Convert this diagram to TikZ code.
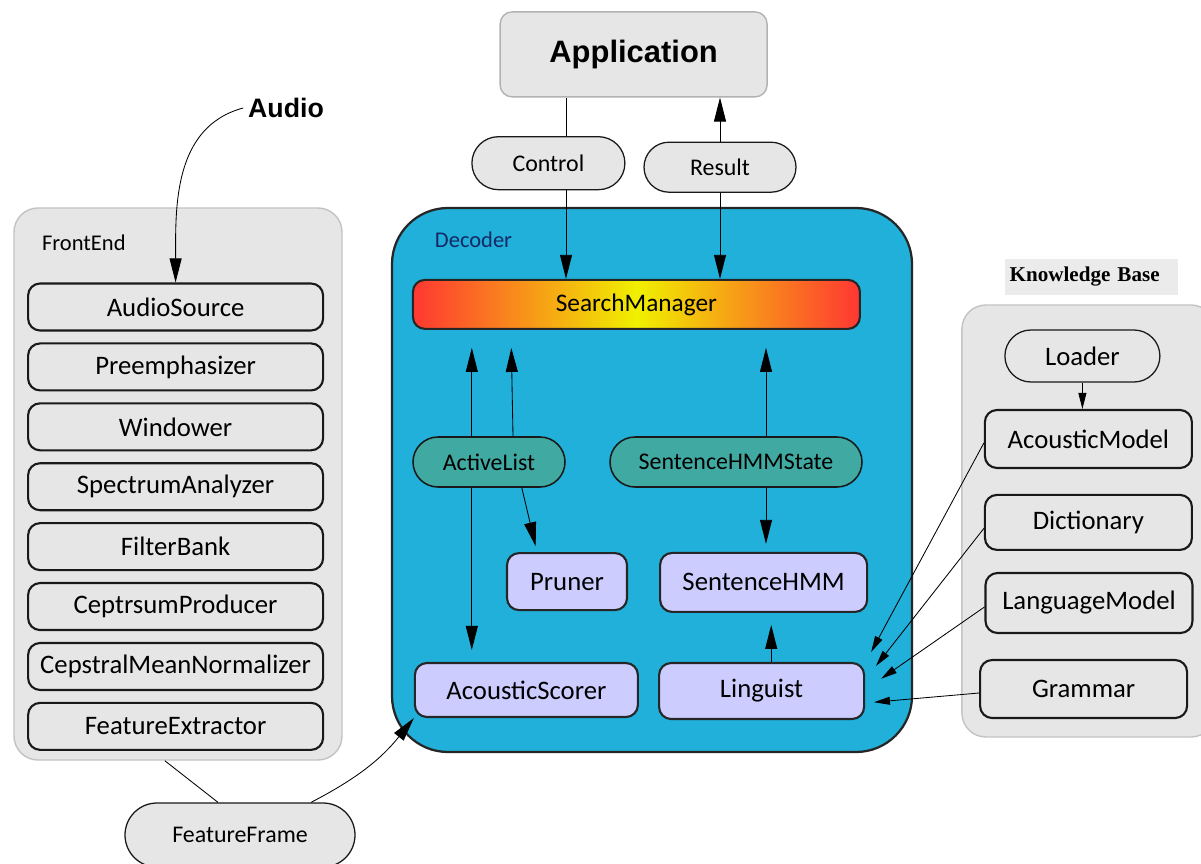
\documentclass[tikz,border=0pt]{standalone}
\usepackage{fontspec}
\setmainfont{Carlito}
\newfontfamily\headfont{Liberation Sans}
\newfontfamily\kbfont{Liberation Serif}
\usetikzlibrary{positioning,shapes.misc,arrows.meta,calc}
\definecolor{boxgray}{RGB}{230,230,230}
\definecolor{edgegray}{RGB}{195,195,195}
\definecolor{decblue}{RGB}{32,176,218}
\definecolor{listteal}{RGB}{64,170,162}
\definecolor{unitlav}{RGB}{204,204,255}
\definecolor{decnavy}{RGB}{20,40,100}
\definecolor{smred}{RGB}{255,55,50}
\definecolor{smyellow}{RGB}{240,240,0}
\tikzset{
    basenode/.style = {align=center, inner sep=0pt, font=\fontsize{19}{22}\selectfont},
    % Grey containers (FrontEnd, Knowledge Base)
    node_box/.style = {rectangle, rounded corners=0.6cm, draw=edgegray, line width=1pt, fill=boxgray},
    % Decoder container
    node_dec/.style = {rectangle, rounded corners=1.4cm, draw=black!85, line width=1.6pt, fill=decblue,
                       minimum width=13cm, minimum height=13.6cm},
    % Boxes with black edge
    node_fe/.style = {basenode, rectangle, rounded corners=0.3cm, draw=black!90, line width=1.5pt, fill=boxgray,
                      minimum width=7.375cm, minimum height=1.175cm},
    node_kb/.style = {node_fe, minimum width=5.175cm, minimum height=1.45cm},
    % Pills for exchanged objects
    node_obj/.style = {basenode, rounded rectangle, draw=black!90, line width=0.9pt, fill=boxgray,
                       font=\fontsize{17}{20}\selectfont},
    node_list/.style = {node_obj, fill=listteal, line width=1.1pt, minimum height=1.25cm},
    % Decoder parts
    node_part/.style = {basenode, rectangle, rounded corners=0.3cm, draw=black!85, line width=1.5pt, fill=unitlav},
    arr/.style = {-{Triangle[length=0.6cm,width=0.3cm]}, line width=0.6pt},
    arr_small/.style = {-{Triangle[length=0.4cm,width=0.2cm]}, line width=0.6pt}
}

\begin{document}
\begin{tikzpicture}
    \useasboundingbox (0,0) rectangle (30.025,-21.6);

    % containers
    \node[node_box, minimum width=8.2cm, minimum height=13.8cm] (frontend) at (4.45,-12.1) {};
    \node[node_box, minimum width=6.325cm, minimum height=10.8cm] (kbase) at (27.21,-13.025) {};
    \node[node_dec] (decoder) at (16.3,-12.0) {};
    \node[anchor=west, font=\fontsize{16}{18}\selectfont] (felabel) at (0.93,-6.07) {FrontEnd};
    \node[anchor=west, text=decnavy, font=\fontsize{16}{18}\selectfont] (declabel) at (10.75,-6.0) {Decoder};
    \node[anchor=west, fill=black!8, inner xsep=3pt, minimum height=0.9cm, text width=4.1cm,
          font=\kbfont\bfseries\fontsize{15}{17}\selectfont] (kblabel) at (25.13,-6.925) {Knowledge Base};

    % application side
    \node[rectangle, rounded corners=0.3cm, draw=black!30, line width=1pt, fill=boxgray,
          minimum width=6.675cm, minimum height=2.125cm,
          font=\headfont\bfseries\fontsize{22}{26}\selectfont] (app) at (15.84,-1.36) {Application};
    \node[node_obj, minimum width=3.825cm, minimum height=1.325cm] (ctrl) at (13.71,-4.08) {Control};
    \node[node_obj, minimum width=3.8cm, minimum height=1.25cm] (res) at (18.0,-4.18) {Result};
    \node[font=\headfont\bfseries\fontsize{19}{22}\selectfont] (audio) at (7.15,-2.7) {Audio};

    % front end chain
    \node[node_fe] (asrc) at (4.39,-7.675) {AudioSource};
    \node[node_fe, below=0.27cm of asrc] (preemph) {Preemphasizer};
    \node[node_fe, below=0.27cm of preemph] (window) {Windower};
    \node[node_fe, below=0.27cm of window] (spectrum) {SpectrumAnalyzer};
    \node[node_fe, below=0.27cm of spectrum] (filter) {FilterBank};
    \node[node_fe, below=0.27cm of filter] (cepstrum) {CeptrsumProducer};
    \node[node_fe, below=0.27cm of cepstrum] (cmn) {CepstralMeanNormalizer};
    \node[node_fe, below=0.27cm of cmn] (fextract) {FeatureExtractor};
    \node[node_obj, minimum width=5.75cm, minimum height=1.6cm] (frame) at (6.0,-20.875) {FeatureFrame};

    % decoder
    \node[basenode, rectangle, rounded corners=0.3cm, draw=black!85, line width=1.5pt,
          left color=smred, right color=smred, middle color=smyellow,
          minimum width=11.175cm, minimum height=1.225cm,
          font=\fontsize{18}{21}\selectfont] (search) at (15.91,-7.61) {SearchManager};
    \node[node_list, minimum width=3.8cm] (active) at (12.225,-11.55) {ActiveList};
    \node[node_list, minimum width=6.3cm] (hmmstate) at (18.4,-11.55) {SentenceHMMState};
    \node[node_part, minimum width=3.0cm, minimum height=1.425cm] (pruner) at (14.175,-14.54) {Pruner};
    \node[node_part, minimum width=5.175cm, minimum height=1.475cm] (hmm) at (19.09,-14.56) {SentenceHMM};
    \node[node_part, minimum width=5.575cm, minimum height=1.35cm] (scorer) at (13.16,-17.25) {AcousticScorer};
    \node[node_part, minimum width=5.125cm, minimum height=1.4cm] (linguist) at (19.04,-17.275) {Linguist};

    % knowledge base
    \node[node_obj, minimum width=3.875cm, minimum height=1.3cm,
          font=\fontsize{19}{22}\selectfont] (loader) at (27.06,-8.9) {Loader};
    \node[node_kb] (acmodel) at (27.21,-10.975) {AcousticModel};
    \node[node_kb, minimum height=1.375cm] (dict) at (27.21,-13.06) {Dictionary};
    \node[node_kb, minimum height=1.5cm] (lmodel) at (27.225,-15.075) {LanguageModel};
    \node[node_kb] (grammar) at (27.09,-17.225) {Grammar};

    % connectors
    \draw[line width=0.6pt] ([xshift=0.44cm]ctrl.north) -- ([xshift=0.44cm]ctrl.north |- app.south);
    \draw[arr] ([xshift=0.44cm]ctrl.south) -- ([xshift=0.44cm]ctrl.south |- search.north);
    \draw[arr] (res.north) -- (res.north |- app.south);
    \draw[arr] (res.south) -- (res.south |- search.north);
    \draw[arr] (audio.west) to[out=195,in=90] (asrc.north);

    \draw[arr, shorten >=0.45cm] ([xshift=-0.43cm]active.north) -- ([xshift=-0.43cm]active.north |- search.south);
    \draw[arr, shorten >=0.45cm] ([xshift=0.6cm]active.north) -- ([xshift=0.55cm]active.north |- search.south);
    \draw[arr, shorten >=0.45cm] ([xshift=0.75cm]hmmstate.north) -- ([xshift=0.75cm]hmmstate.north |- search.south);
    \draw[arr, shorten >=0.3cm] ([xshift=-0.43cm]active.south) -- ([xshift=-0.43cm]active.south |- scorer.north);
    \draw[arr, shorten >=0.15cm] ([xshift=0.82cm]active.south) -- ([xshift=-0.75cm]pruner.north);
    \draw[arr, shorten >=0.2cm] ([xshift=0.75cm]hmmstate.south) -- ([xshift=0.75cm]hmmstate.south |- hmm.north);
    \draw[arr, shorten >=0.3cm] ([xshift=0.24cm]linguist.north) -- ([xshift=0.24cm]linguist.north |- hmm.south);

    \draw[line width=0.6pt] ([xshift=-0.33cm]frontend.south) -- ([xshift=-0.55cm]frame.north);
    \draw[arr] ([xshift=-0.3cm]frame.north east) to[bend right=12] (scorer.south west);

    \draw[arr_small] (loader.south) -- (loader.south |- acmodel.north);
    \draw[arr_small] ([yshift=-0.1cm]acmodel.west) -- ([shift={(0.15cm,0.25cm)}]linguist.north east);
    \draw[arr_small] ([yshift=-0.15cm]dict.west) -- ([shift={(0.27cm,-0.1cm)}]linguist.north east);
    \draw[arr_small] ([yshift=-0.1cm]lmodel.west) -- ([shift={(0.4cm,-0.42cm)}]linguist.north east);
    \draw[arr_small] ([yshift=-0.1cm]grammar.west) -- ([shift={(0.22cm,-0.28cm)}]linguist.east);
\end{tikzpicture}
\end{document}
